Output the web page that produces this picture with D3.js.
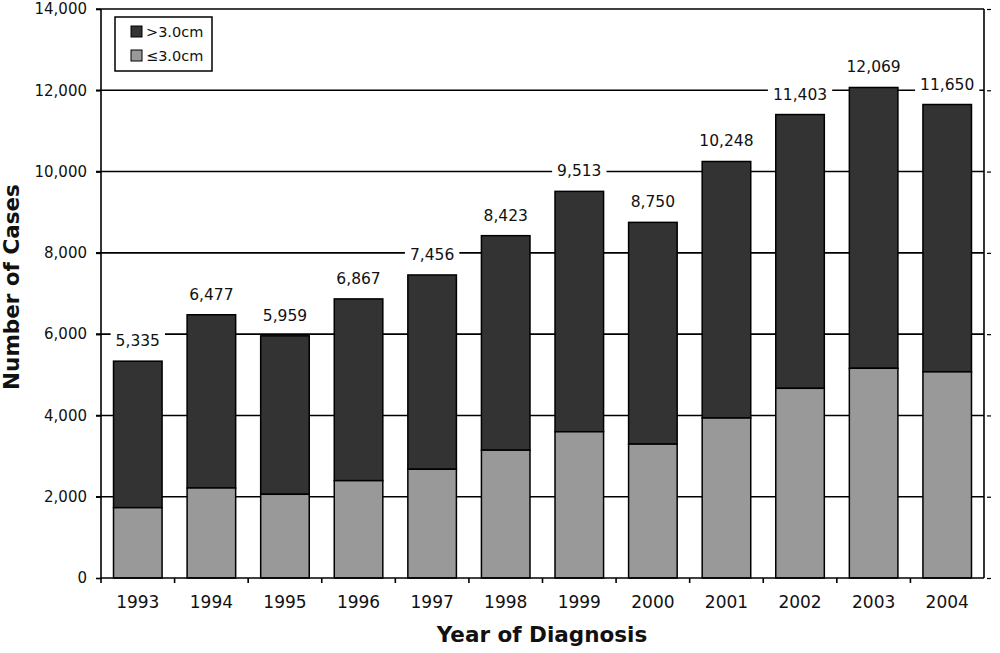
<!DOCTYPE html>
<html><head><meta charset="utf-8">
<script src="https://cdn.jsdelivr.net/npm/d3@7"></script>
<style>body{margin:0;background:#fff}</style>
</head><body>
<svg id="c" width="1000" height="653"></svg>
<script>
const years = ["1993","1994","1995","1996","1997","1998","1999","2000","2001","2002","2003","2004"];
const totals = [5335,6477,5959,6867,7456,8423,9513,8750,10248,11403,12069,11650];
const small = [1730,2215,2060,2395,2676,3145,3598,3294,3936,4667,5160,5072];
const yTicks = [0,2000,4000,6000,8000,10000,12000,14000];
const seriesNames = [">3.0cm","\u22643.0cm"];
const colors = ["#333333","#999999"];

(function(){
const svg = d3.select("#c");
const L = 101, R = 984, T = 9, B = 578;
const font = "DejaVu Sans, Verdana, sans-serif";
const x = d3.scaleBand().domain(years).range([L,R]).paddingInner(0.34).paddingOuter(0.17);
const y = d3.scaleLinear().domain([0,14000]).range([B,T]);

// gridlines
svg.append("g").selectAll("line").data(yTicks.slice(1)).join("line")
  .attr("x1",L-5).attr("x2",R).attr("y1",d=>y(d)).attr("y2",d=>y(d))
  .attr("stroke","#000").attr("stroke-width",1.6);

// bars
const g = svg.append("g");
years.forEach((yr,i)=>{
  g.append("rect").attr("x",x(yr)).attr("width",x.bandwidth())
    .attr("y",y(totals[i])).attr("height",y(small[i])-y(totals[i]))
    .attr("fill",colors[0]).attr("stroke","#000").attr("stroke-width",1.5);
  g.append("rect").attr("x",x(yr)).attr("width",x.bandwidth())
    .attr("y",y(small[i])).attr("height",y(0)-y(small[i]))
    .attr("fill",colors[1]).attr("stroke","#000").attr("stroke-width",1.5);
});

// value labels
const fmt = d3.format(",");
years.forEach((yr,i)=>{
  const cx = x(yr)+x.bandwidth()/2, by = y(totals[i])-15;
  const t = svg.append("text").attr("x",cx).attr("y",by).attr("text-anchor","middle")
    .attr("font-family",font).attr("font-size",15.5).attr("fill","#111").text(fmt(totals[i]));
  const bb = t.node().getBBox();
  svg.insert("rect", () => t.node()).attr("x",bb.x-5).attr("y",bb.y).attr("width",bb.width+10).attr("height",bb.height)
    .attr("fill","#fff");
});

// left axis
const ya = svg.append("g").attr("transform",`translate(${L},0)`)
  .call(d3.axisLeft(y).tickValues(yTicks).tickFormat(fmt).tickSize(5).tickPadding(9));
ya.select(".domain").attr("stroke","#000").attr("stroke-width",1.6).attr("d",`M0,${T}V${B+5}`);
ya.selectAll(".tick line").attr("stroke","#000").attr("stroke-width",1.6);
ya.selectAll("text").attr("font-family",font).attr("font-size",15).attr("fill","#111");

// right axis
const yr2 = svg.append("g").attr("transform",`translate(${R},0)`)
  .call(d3.axisRight(y).tickValues(yTicks).tickFormat("").tickSize(4));
yr2.select(".domain").attr("stroke","#000").attr("stroke-width",1.6).attr("d",`M0,${T}V${B}`);
yr2.selectAll(".tick line").attr("stroke","#000").attr("stroke-width",1.2).attr("x1",3).attr("x2",7);

// bottom axis
const xa = svg.append("g").attr("transform",`translate(0,${B})`)
  .call(d3.axisBottom(x).tickSize(0).tickPadding(18));
xa.select(".domain").attr("stroke","#000").attr("stroke-width",1.6).attr("d",`M${L},0H${R}`);
xa.selectAll("text").attr("font-family",font).attr("font-size",17).attr("fill","#111");
const step = x.step();
svg.append("g").selectAll("line").data(d3.range(1,12)).join("line")
  .attr("x1",d=>L+d*step).attr("x2",d=>L+d*step).attr("y1",B).attr("y2",B+5)
  .attr("stroke","#000").attr("stroke-width",1.6);

// axis titles
svg.append("text").attr("x",542).attr("y",642).attr("text-anchor","middle")
  .attr("font-family",font).attr("font-weight","bold").attr("font-size",21.5).attr("fill","#111")
  .text("Year of Diagnosis");
svg.append("text").attr("transform",`translate(19,287) rotate(-90)`).attr("text-anchor","middle")
  .attr("font-family",font).attr("font-weight","bold").attr("font-size",21.5).attr("fill","#111")
  .text("Number of Cases");

// legend
const lg = svg.append("g");
lg.append("rect").attr("x",115).attr("y",17).attr("width",97).attr("height",54)
  .attr("fill","#fff").attr("stroke","#000").attr("stroke-width",1.5);
seriesNames.forEach((s,i)=>{
  lg.append("rect").attr("x",131).attr("y",26+i*24).attr("width",11).attr("height",11)
    .attr("fill",colors[i]).attr("stroke","#000").attr("stroke-width",1);
  lg.append("text").attr("x",146).attr("y",37+i*24).attr("font-family",font).attr("font-size",14.5)
    .attr("fill","#111").text(s);
});
})();
</script>
</body></html>
